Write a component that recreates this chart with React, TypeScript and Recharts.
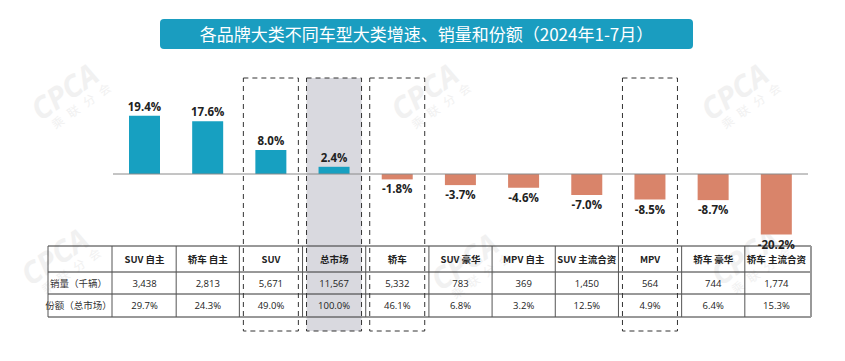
import React from "react";
import { BarChart, Bar, XAxis, YAxis, ReferenceLine, LabelList, Cell } from "recharts";

// 各车型大类 (2024年1-7月)
const categories = [
  "SUV 自主",
  "轿车 自主",
  "SUV",
  "总市场",
  "轿车",
  "SUV 豪华",
  "MPV 自主",
  "SUV 主流合资",
  "MPV",
  "轿车 豪华",
  "轿车 主流合资",
];
const growth = [19.4, 17.6, 8.0, 2.4, -1.8, -3.7, -4.6, -7.0, -8.5, -8.7, -20.2];
const sales = [3438, 2813, 5671, 11567, 5332, 783, 369, 1450, 564, 744, 1774];
const share = [29.7, 24.3, 49.0, 100.0, 46.1, 6.8, 3.2, 12.5, 4.9, 6.4, 15.3];
const rowLabels = ["销量（千辆）", "份额（总市场）"];
const boxed = ["SUV", "总市场", "轿车", "MPV"];
const totalName = "总市场";

const data = categories.map((name, i) => ({
  name,
  growth: growth[i],
  sales: sales[i],
  share: share[i],
}));

// layout
const W = 845;
const H = 361;
const LEFT = 113;
const RIGHT = 37;
const BAND = (W - LEFT - RIGHT) / categories.length;
const TABLE_LEFT = 48;
const ROWS = [246, 272, 294, 317];
const FONT = "'Open Sans', 'Noto Sans CJK SC', sans-serif";
const CJK = "'Noto Sans CJK SC', 'Open Sans', sans-serif";

const renderBox = (props: any) => {
  const { x, y, width, height, index } = props;
  const name = categories[index];
  if (!boxed.includes(name)) return <g key={`bg-${index}`} />;
  const cx = x + width / 2;
  return (
    <rect
      key={`bg-${index}`}
      x={cx - 27.5}
      y={y}
      width={55}
      height={height}
      fill={name === totalName ? "#d9d9df" : "none"}
      stroke="#333"
      strokeWidth={1}
      strokeDasharray="5 4"
    />
  );
};

const renderLabel = (props: any) => {
  const { x, y, width, height, value } = props;
  const top = Math.min(y, y + height);
  const bottom = Math.max(y, y + height);
  const neg = value < 0;
  return (
    <text
      x={x + width / 2}
      y={neg ? bottom + 14 : top - 5}
      textAnchor="middle"
      fontSize={11.5}
      fontWeight="bold"
      fill="#222"
      fontFamily={FONT}
    >
      {value.toFixed(1)}%
    </text>
  );
};

const TableTick = (props: any) => {
  const { x, payload } = props;
  const i = payload.index;
  const right = x + BAND / 2;
  const tableRight = LEFT + BAND * categories.length + 3;
  return (
    <g>
      {i === 0 && (
        <g>
          {ROWS.map((ry) => (
            <line key={ry} x1={TABLE_LEFT} x2={tableRight} y1={ry} y2={ry} stroke="#333" strokeWidth={1} />
          ))}
          <line x1={TABLE_LEFT} x2={TABLE_LEFT} y1={ROWS[0]} y2={ROWS[3]} stroke="#555" />
          <line x1={LEFT - 1} x2={LEFT - 1} y1={ROWS[0]} y2={ROWS[3]} stroke="#555" />
          <line x1={tableRight} x2={tableRight} y1={ROWS[0]} y2={ROWS[3]} stroke="#999" strokeWidth={2} />
          {rowLabels.map((lab, r) => (
            <text
              key={lab}
              x={(TABLE_LEFT + LEFT) / 2 - 2}
              y={(ROWS[r + 1] + ROWS[r + 2]) / 2 + 3.5}
              textAnchor="middle"
              fontSize={9.5}
              fill="#333"
              fontFamily={CJK}
            >
              {lab}
            </text>
          ))}
        </g>
      )}
      {i < categories.length - 1 && (
        <line x1={right} x2={right} y1={ROWS[0]} y2={ROWS[3]} stroke="#555" />
      )}
      <text
        x={x}
        y={(ROWS[0] + ROWS[1]) / 2 + 3.5}
        textAnchor="middle"
        fontSize={9.5}
        fontWeight="bold"
        fill="#222"
        fontFamily={CJK}
      >
        {categories[i]}
      </text>
      <text
        x={x}
        y={(ROWS[1] + ROWS[2]) / 2 + 3.5}
        textAnchor="middle"
        fontSize={9.5}
        fill="#222"
        fontFamily={FONT}
      >
        {sales[i].toLocaleString("en-US")}
      </text>
      <text
        x={x}
        y={(ROWS[2] + ROWS[3]) / 2 + 3.5}
        textAnchor="middle"
        fontSize={9.5}
        fill="#222"
        fontFamily={FONT}
      >
        {share[i].toFixed(1)}%
      </text>
    </g>
  );
};

const marks = [
  { left: 25, top: 110 },
  { left: 385, top: 110 },
  { left: 695, top: 110 },
  { left: 15, top: 275 },
  { left: 425, top: 280 },
  { left: 705, top: 275 },
];

function Watermark({ left, top }: { left: number; top: number }) {
  return (
    <div
      style={{
        position: "absolute",
        left,
        top,
        transform: "rotate(-35deg)",
        transformOrigin: "left bottom",
        color: "#f1f1f1",
        fontFamily: FONT,
        lineHeight: 1,
      }}
    >
      <div style={{ fontSize: 30, fontWeight: "bold", fontStyle: "italic", marginLeft: 30 }}>CPCA</div>
      <div style={{ fontSize: 12, marginLeft: 38, letterSpacing: 7, fontFamily: CJK }}>乘联分会</div>
    </div>
  );
}

export default function App() {
  return (
    <div style={{ position: "relative", width: W, height: H, background: "#fff", overflow: "hidden" }}>
      <style>{`body{margin:0}`}</style>
      {marks.map((m, i) => (
        <Watermark key={i} left={m.left} top={m.top} />
      ))}
      <div
        style={{
          position: "absolute",
          left: 160,
          top: 19,
          width: 533,
          height: 30,
          background: "#1a9dc0",
          borderRadius: 4,
          color: "#fff",
          fontFamily: CJK,
          fontSize: 17,
          lineHeight: "30px",
          textAlign: "center",
        }}
      >
        各品牌大类不同车型大类增速、销量和份额（2024年1-7月）
      </div>
      <div style={{ position: "absolute", left: 0, top: 0 }}>
        <BarChart
          width={W}
          height={H}
          data={data}
          margin={{ top: 78, right: RIGHT, bottom: 0, left: LEFT }}
          barSize={31}
        >
          <XAxis
            dataKey="name"
            axisLine={false}
            tickLine={false}
            height={30}
            interval={0}
            tick={<TableTick />}
          />
          <YAxis hide type="number" domain={[-52.33, 32]} />
          <Bar dataKey="growth" isAnimationActive={false} background={renderBox}>
            {data.map((d) => (
              <Cell key={d.name} fill={d.growth >= 0 ? "#17a0c1" : "#d9846a"} />
            ))}
            <LabelList dataKey="growth" content={renderLabel} />
          </Bar>
          <ReferenceLine y={0} stroke="#8a8a8a" strokeWidth={1} />
        </BarChart>
      </div>
    </div>
  );
}
